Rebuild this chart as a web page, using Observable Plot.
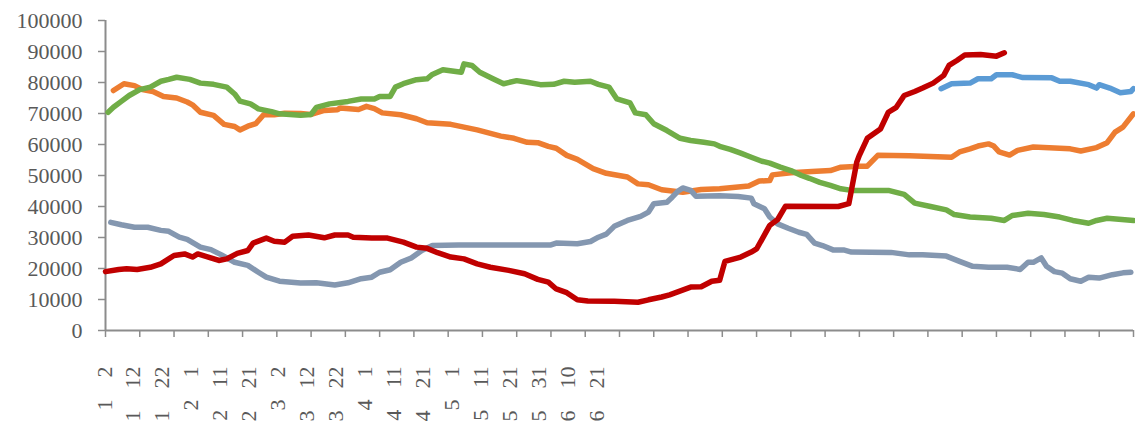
<!DOCTYPE html>
<html>
<head>
<meta charset="utf-8">
<script src="https://cdn.jsdelivr.net/npm/d3@7"></script>
<script src="https://cdn.jsdelivr.net/npm/@observablehq/plot@0.6"></script>
<style>
  html, body { margin: 0; padding: 0; background: #fff; }
  #chart svg { display: block; }
</style>
</head>
<body>
<div id="chart"></div>
<script>
// Category axis: 390 categories, tick marks every 13, labels every 11
const tickIdx = d3.range(0, 391, 13);
const labelMonths = ["1","1","1","2","2","2","3","3","3","4","4","4","5","5","5","5","6","6"];
const labelDays   = ["2","12","22","1","11","21","2","12","22","1","11","21","1","11","21","31","10","21"];
const labelIdx = labelMonths.map((_, i) => i * 11);

// Series (category index, value)
const orangeIdx = [3,7,11,14,18,22,27,31,33,36,41,45,49,51,54,57,60,64,68,74,78,83,88,89,96,99,102,105,112,118,122,131,136,141,150,155,160,164,168,171,175,179,185,190,198,202,206,211,219,226,233,244,248,252,253,260,268,275,279,286,289,293,305,321,324,328,331,335,337,339,343,346,352,366,370,376,380,383,386,390];
const orangeVal = [77400,79600,79000,77700,77100,75500,75000,73700,72800,70400,69400,66500,65800,64700,65900,66700,69600,69600,70100,70000,69700,71000,71200,71800,71300,72300,71600,70200,69600,68300,67000,66500,65600,64700,62700,62000,60700,60600,59400,58800,56500,55200,52200,50700,49500,47300,47000,45400,44600,45500,45700,46600,48200,48400,50200,50900,51300,51600,52700,53000,53000,56500,56400,55900,57600,58600,59500,60200,59500,57600,56600,58100,59200,58600,57900,59000,60600,64000,65600,69900];

const greenIdx = [1,3,6,9,13,17,21,24,27,32,36,41,46,49,51,55,58,63,66,74,78,80,85,92,97,102,104,108,110,113,118,122,124,128,135,136,139,142,147,151,156,160,165,170,174,178,184,187,191,194,199,201,205,208,213,218,222,227,231,233,237,241,245,249,252,256,260,264,267,271,275,279,283,297,303,307,313,319,322,328,336,341,344,350,356,362,367,373,376,380,390];
const greenVal = [70400,72000,73900,75800,77700,78500,80400,81000,81700,81000,79800,79400,78500,76300,74000,73100,71500,70600,69900,69400,69700,72000,73100,73900,74700,74700,75500,75500,78500,79600,80900,81200,82600,84100,83300,86000,85500,83300,81200,79600,80600,80100,79300,79400,80400,80100,80400,79400,78500,74700,73400,70200,69600,66700,64500,62000,61300,60700,60200,59400,58400,57200,55900,54600,54000,52700,51600,50000,49100,47800,46800,45700,45200,45200,43900,41100,40000,38900,37400,36600,36200,35500,37100,37800,37400,36600,35500,34600,35500,36200,35500];

const grayIdx = [2,6,11,16,21,24,28,31,36,40,44,49,54,58,61,66,74,80,87,92,97,101,104,108,112,116,120,124,134,169,171,179,184,187,190,193,198,203,206,208,213,215,217,219,222,224,233,240,245,246,250,252,255,259,263,266,269,272,276,280,283,298,305,310,319,324,329,335,342,347,350,352,355,357,360,363,366,370,373,377,382,386,389];
const grayVal = [34900,34100,33300,33300,32300,32000,30100,29400,26900,26100,24400,22000,21000,18800,17200,15900,15300,15400,14700,15400,16700,17200,18800,19600,22000,23400,25800,27400,27600,27600,28200,28000,28700,30100,31100,33600,35500,36800,38200,40900,41400,43000,44800,46000,45200,43300,43500,43200,42700,40900,39300,36600,34400,33000,31700,31000,28200,27400,26000,26000,25300,25200,24400,24400,24000,22300,20700,20400,20400,19700,22000,22000,23400,20700,19000,18500,16700,15900,17200,16900,18000,18600,18800];

const redIdx = [0,5,8,12,17,21,26,30,33,35,39,43,46,50,54,56,61,64,68,71,77,83,87,92,94,101,107,113,118,122,126,131,136,141,146,153,159,164,168,171,175,179,183,193,202,206,211,214,222,226,230,233,235,241,245,247,252,255,258,278,282,285,286,289,294,297,300,303,307,310,314,318,320,323,326,332,338,341];
const redVal = [19000,19700,19900,19700,20400,21500,24200,24700,23700,24700,23700,22600,23100,24900,25800,28200,29800,28800,28500,30400,30800,29900,30800,30800,30100,29800,29800,28500,26900,26500,25100,23700,23100,21500,20400,19400,18300,16500,15600,13400,12200,9900,9500,9400,9100,9900,10800,11500,14000,14100,15900,16200,22300,23700,25300,26300,33900,35800,40100,40000,40900,54300,56500,62000,65000,70400,72000,75800,77100,78200,79800,82300,85500,87100,88900,89000,88500,89600];

const blueIdx = [317,321,328,331,336,338,344,348,359,362,366,373,376,377,381,385,389,390];
const blueVal = [78000,79600,79800,81200,81200,82500,82500,81600,81500,80400,80400,79300,78200,79300,78200,76700,77100,78000];

const series = [
  {name: "orange", idx: orangeIdx, val: orangeVal, color: "#ED7D31"},
  {name: "green",  idx: greenIdx,  val: greenVal,  color: "#70AD47"},
  {name: "gray",   idx: grayIdx,   val: grayVal,   color: "#8497B0"},
  {name: "red",    idx: redIdx,    val: redVal,    color: "#C00000"},
  {name: "blue",   idx: blueIdx,   val: blueVal,   color: "#5B9BD5"}
];

const labels = labelIdx.map((x, i) => ({x, text: labelMonths[i] + "\u3000" + labelDays[i] + "\u3000"}));

const axisColor = "#8c8c8c";
const textColor = "#595959";
const font = "'Liberation Serif', 'Times New Roman', serif";

const marks = [
  Plot.axisY({ticks: d3.range(0, 100001, 10000), tickSize: 7, tickPadding: 16, tickFormat: d => String(d),
    label: null, fontSize: 22, fontFamily: font, stroke: axisColor, strokeWidth: 1.5, fill: textColor}),
  Plot.axisX({ticks: tickIdx, tickSize: 7, tickFormat: () => "", label: null, stroke: axisColor, strokeWidth: 1.5}),
  Plot.ruleX([0], {stroke: axisColor, strokeWidth: 2}),
  Plot.ruleY([0], {stroke: axisColor, strokeWidth: 2}),
  Plot.text(labels, {x: "x", text: "text", frameAnchor: "bottom", rotate: -90, textAnchor: "end",
    dx: 6, dy: 14, fontSize: 22, fontFamily: font, fill: textColor})
];
for (const s of series) {
  const rows = s.idx.map((x, i) => ({x, y: s.val[i]}));
  marks.push(Plot.line(rows, {x: "x", y: "y", stroke: s.color, strokeWidth: 5.5,
    strokeLinejoin: "round", strokeLinecap: "round"}));
}

const chart = Plot.plot({
  width: 1135,
  height: 431,
  marginLeft: 105,
  marginRight: 2,
  marginTop: 20,
  marginBottom: 101,
  style: {background: "#fff", overflow: "visible", fontFamily: font},
  x: {domain: [0, 390], axis: null, label: null},
  y: {domain: [0, 100000], axis: null, label: null},
  marks
});
document.getElementById("chart").appendChild(chart);
</script>
</body>
</html>
